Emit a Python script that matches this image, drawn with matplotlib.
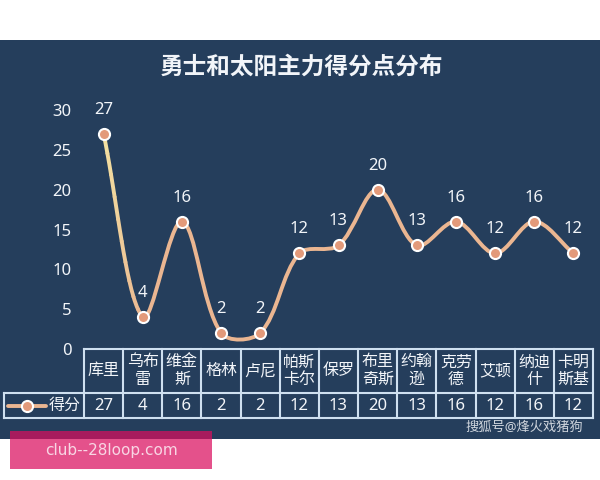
import numpy as np
import matplotlib.pyplot as plt
from matplotlib.path import Path
from matplotlib.patches import PathPatch, Rectangle
from matplotlib.colors import to_rgb

plt.rcParams['font.family'] = ['Noto Sans', 'Noto Sans CJK SC', 'DejaVu Sans']

# data
players = ['库里', '乌布\n雷', '维金\n斯', '格林', '卢尼', '帕斯\n卡尔', '保罗',
           '布里\n奇斯', '约翰\n逊', '克劳\n德', '艾顿', '纳迪\n什', '卡明\n斯基']
points = [27, 4, 16, 2, 2, 12, 13, 20, 13, 16, 12, 16, 12]
series_name = '得分'
yticks = [0, 5, 10, 15, 20, 25, 30]

NAVY = '#253e5c'
TXT = '#f2f5f9'
LINE = '#ebb691'
LINE_TOP = '#f3e2a2'
MARK = '#e39a7a'
GRIDC = '#cfe0f0'

W, H = 600, 480
fig = plt.figure(figsize=(6, 4.8), dpi=100)
fig.patch.set_facecolor('white')
fig.patches.append(Rectangle((0, 41 / H), 1, 399 / H, transform=fig.transFigure,
                             facecolor=NAVY, edgecolor='none', zorder=-5))

fig.text(301 / W, 1 - 68 / H, '勇士和太阳主力得分点分布', ha='center', va='center',
         fontsize=17, fontweight='bold', color=TXT)

# main plot
ax = fig.add_axes([84 / W, 1 - 349 / H, 509 / W, 239 / H])
ax.set_facecolor('none')
n = len(points)
x = np.arange(n)
ax.set_xlim(-0.5, n - 0.5)
ax.set_ylim(0, 30)
for s in ax.spines.values():
    s.set_visible(False)
ax.set_xticks([])
ax.set_yticks(yticks)
ax.set_yticklabels([str(t) for t in yticks], fontsize=12, color=TXT)
ax.tick_params(axis='y', length=0, pad=9)

# smoothed line: bezier with chord-length scaled tangents (screen space)
P = np.column_stack([x, points]).astype(float)
sx, sy = 509 / n, 239 / 30


def dist(a, b):
    return np.hypot((a[0] - b[0]) * sx, (a[1] - b[1]) * sy)


segs = []
for i in range(n - 1):
    p0 = P[max(i - 1, 0)]
    p1, p2 = P[i], P[i + 1]
    p3 = P[min(i + 2, n - 1)]
    d01, d12, d23 = dist(p0, p1), dist(p1, p2), dist(p2, p3)
    c1 = p1 + (p2 - p0) * d12 / (d01 + d12) / 3
    c2 = p2 - (p3 - p1) * d12 / (d12 + d23) / 3
    segs.append((p1, c1, c2, p2))


def split(b, t):
    a, b1, c, d = b
    ab = a + (b1 - a) * t
    bc = b1 + (c - b1) * t
    cd = c + (d - c) * t
    abc = ab + (bc - ab) * t
    bcd = bc + (cd - bc) * t
    m = abc + (bcd - abc) * t
    return (a, ab, abc, m), (m, bcd, cd, d)


def draw_bez(b, color):
    path = Path(list(b), [Path.MOVETO, Path.CURVE4, Path.CURVE4, Path.CURVE4])
    ax.add_patch(PathPatch(path, facecolor='none', edgecolor=color, lw=2.8,
                           capstyle='round', zorder=3, clip_on=False))


# first segment fades from yellow to peach
ctop, cbot = np.array(to_rgb(LINE_TOP)), np.array(to_rgb(LINE))
rest = segs[0]
k = 10
for j in range(k):
    if j < k - 1:
        piece, rest = split(rest, 1.0 / (k - j))
    else:
        piece = rest
    draw_bez(piece, tuple(ctop + (cbot - ctop) * (j + 0.5) / k))
for b in segs[1:]:
    draw_bez(b, LINE)

ax.plot(x, points, 'o', ms=8, mfc=MARK, mec='white', mew=1.5, zorder=5, clip_on=False)
for xi, v in zip(x, points):
    ax.annotate(str(v), (xi, v), xytext=(0, 24), textcoords='offset pixels',
                ha='center', va='center', fontsize=12, color=TXT)

# data table below the plot
colw = 509 / n
lx = -0.5 + (4 - 84) / colw
tax = fig.add_axes([4 / W, 1 - 418 / H, 589 / W, 69 / H])
tax.set_facecolor('none')
tax.set_xlim(lx, n - 0.5)
tax.set_ylim(0, 69)
tax.axis('off')
lk = dict(color=GRIDC, lw=1.5, solid_capstyle='projecting', clip_on=False)
tax.plot([-0.5, n - 0.5], [69, 69], **lk)
tax.plot([lx, n - 0.5], [25, 25], **lk)
tax.plot([lx, n - 0.5], [0, 0], **lk)
tax.plot([lx, lx], [0, 25], **lk)
for i in range(n + 1):
    tax.plot([i - 0.5, i - 0.5], [0, 69], **lk)
for i, (name, v) in enumerate(zip(players, points)):
    tax.text(i, 47, name, ha='center', va='center', fontsize=11.5, color=TXT,
             linespacing=1.1)
    tax.text(i, 12.5, str(v), ha='center', va='center', fontsize=12, color=TXT)


def px(p):
    return -0.5 + (p - 84) / colw


tax.plot([px(8), px(46)], [12.5, 12.5], color=LINE, lw=2.8, solid_capstyle='round')
tax.plot([px(27)], [12.5], 'o', ms=8, mfc=MARK, mec='white', mew=1.5)
tax.text(px(65), 12.5, series_name, ha='center', va='center', fontsize=11.5, color=TXT)

# watermarks
fig.text(583 / W, 1 - 427 / H, '搜狐号@烽火戏猪狗', ha='right', va='center',
         fontsize=9.5, color='#d0d6de')
fig.patches.append(Rectangle((10 / W, 11 / H), 202 / W, 38 / H, transform=fig.transFigure,
                             facecolor='#da0e5e', alpha=0.72, edgecolor='none', zorder=10))
fig.text(111 / W, 1 - 450 / H, 'club--28loop.com', ha='center', va='center',
         fontsize=11, color='#f8d6e4', family='DejaVu Sans', zorder=11)

fig.savefig('out.png', dpi=100)
